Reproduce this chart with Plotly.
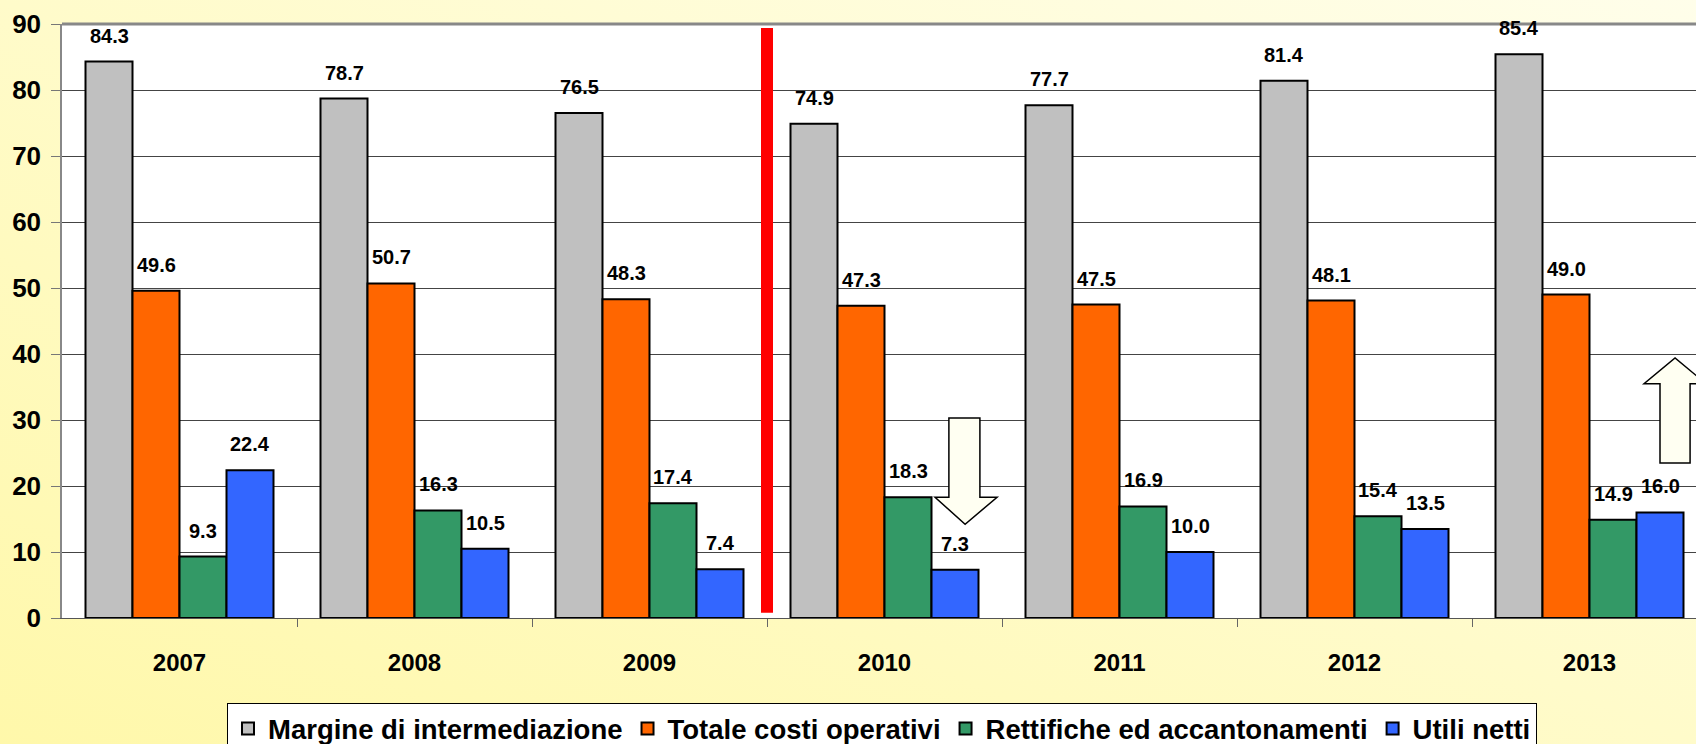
import base64
import plotly.graph_objects as go

years = ["2007", "2008", "2009", "2010", "2011", "2012", "2013"]
series_names = ["Margine di intermediazione", "Totale costi operativi",
                "Rettifiche ed accantonamenti", "Utili netti"]
margine = [84.3, 78.7, 76.5, 74.9, 77.7, 81.4, 85.4]
costi = [49.6, 50.7, 48.3, 47.3, 47.5, 48.1, 49.0]
rettifiche = [9.3, 16.3, 17.4, 18.3, 16.9, 15.4, 14.9]
utili = [22.4, 10.5, 7.4, 7.3, 10.0, 13.5, 16.0]
colors = ["#C0C0C0", "#FF6600", "#339966", "#3366FF"]
y_ticks = [0, 10, 20, 30, 40, 50, 60, 70, 80, 90]

FONT = "Arial, 'Liberation Sans', sans-serif"
W, H = 1696, 744
ML, MT, MB = 62, 24, 126
PW, PH = W - ML, H - MT - MB
CAT = 235.0  # px per category

xpos = list(range(len(years)))
all_series = [margine, costi, rettifiche, utili]

fig = go.Figure()
for name, vals, col in zip(series_names, all_series, colors):
    fig.add_trace(go.Bar(
        x=xpos, y=vals, name=name,
        marker=dict(color=col, line=dict(color="black", width=2)),
        hoverinfo="skip",
    ))

# data labels
offsets = [-0.3, -0.1, 0.1, 0.3]
for off, vals in zip(offsets, all_series):
    for i, v in enumerate(vals):
        fig.add_annotation(
            x=i + off, y=v, text=f"{v:.1f}", showarrow=False,
            yanchor="middle", yshift=26, xref="x", yref="y",
            font=dict(family=FONT, size=20, color="black", weight="bold"),
        )

# background gradient (paper)
svg = ('<svg xmlns="http://www.w3.org/2000/svg" width="100" height="100" preserveAspectRatio="none">'
       '<defs><linearGradient id="g" x1="0" y1="1" x2="1" y2="0">'
       '<stop offset="0" stop-color="#FFF8AA"/><stop offset="1" stop-color="#FFFEEA"/>'
       '</linearGradient></defs><rect width="100" height="100" fill="url(#g)"/></svg>')
src = "data:image/svg+xml;base64," + base64.b64encode(svg.encode()).decode()
fig.add_layout_image(dict(
    source=src, xref="paper", yref="paper",
    x=-ML / PW, y=1 + MT / PH, sizex=W / PW, sizey=H / PH,
    xanchor="left", yanchor="top", sizing="stretch", layer="below",
))
# white plot area
fig.add_shape(type="rect", xref="paper", yref="paper", x0=0, x1=1, y0=0, y1=1,
              fillcolor="white", line=dict(width=0), layer="below")
# top border of plot area
fig.add_shape(type="line", xref="paper", yref="paper", x0=0, x1=1, y0=1, y1=1,
              line=dict(color="#888888", width=3), layer="above")

# red separator
fig.add_shape(type="line", xref="x", yref="y", x0=2.5, x1=2.5, y0=0.8, y1=89.4,
              line=dict(color="#FF0000", width=12), layer="above")

# arrows
arrow_style = dict(fillcolor="#FFFFF2", line=dict(color="black", width=1.5), layer="above")
down = [(3.274, 30.3), (3.406, 30.3), (3.406, 18.3), (3.479, 18.3), (3.343, 14.2),
        (3.215, 18.3), (3.274, 18.3)]
up = [(6.3, 23.5), (6.428, 23.5), (6.428, 35.5), (6.496, 35.5), (6.364, 39.4),
      (6.232, 35.5), (6.3, 35.5)]
for pts in (down, up):
    path = "M " + " L ".join(f"{x},{y}" for x, y in pts) + " Z"
    fig.add_shape(type="path", xref="x", yref="y", path=path, **arrow_style)

fig.update_layout(
    width=W, height=H,
    margin=dict(l=ML, r=0, t=MT, b=MB, pad=0, autoexpand=False),
    paper_bgcolor="#FFFBC8", plot_bgcolor="white",
    barmode="group", bargap=0.2, bargroupgap=0,
    font=dict(family=FONT, color="black"),
    showlegend=True,
    legend=dict(
        orientation="h", xref="container", yref="container",
        x=227 / W, xanchor="left",
        y=1 - 703 / H, yanchor="top",
        bgcolor="white", bordercolor="black", borderwidth=1,
        font=dict(family=FONT, size=27.5, color="black", weight="bold"),
        traceorder="normal",
    ),
)
fig.update_xaxes(
    range=[-0.5, -0.5 + PW / CAT], tickmode="array", tickvals=xpos, ticktext=years,
    ticks="", showgrid=False, zeroline=False,
    showline=True, linecolor="#555555", linewidth=1,
    tickfont=dict(family=FONT, size=24, color="black", weight="bold"),
    ticklabelstandoff=23,
    minor=dict(tickmode="array", tickvals=[i + 0.5 for i in xpos[:-1]],
               ticks="outside", ticklen=8, tickcolor="#666666", tickwidth=1, showgrid=False),
)
fig.update_yaxes(
    range=[0, 90], tickmode="array", tickvals=y_ticks,
    ticks="outside", ticklen=9, tickcolor="#777777", tickwidth=1,
    showline=True, linecolor="#888888", linewidth=1.5,
    showgrid=True, gridcolor="#444444", gridwidth=1, zeroline=False,
    tickfont=dict(family=FONT, size=26, color="black", weight="bold"),
    ticklabelstandoff=5,
)

fig.write_html("out.html")
